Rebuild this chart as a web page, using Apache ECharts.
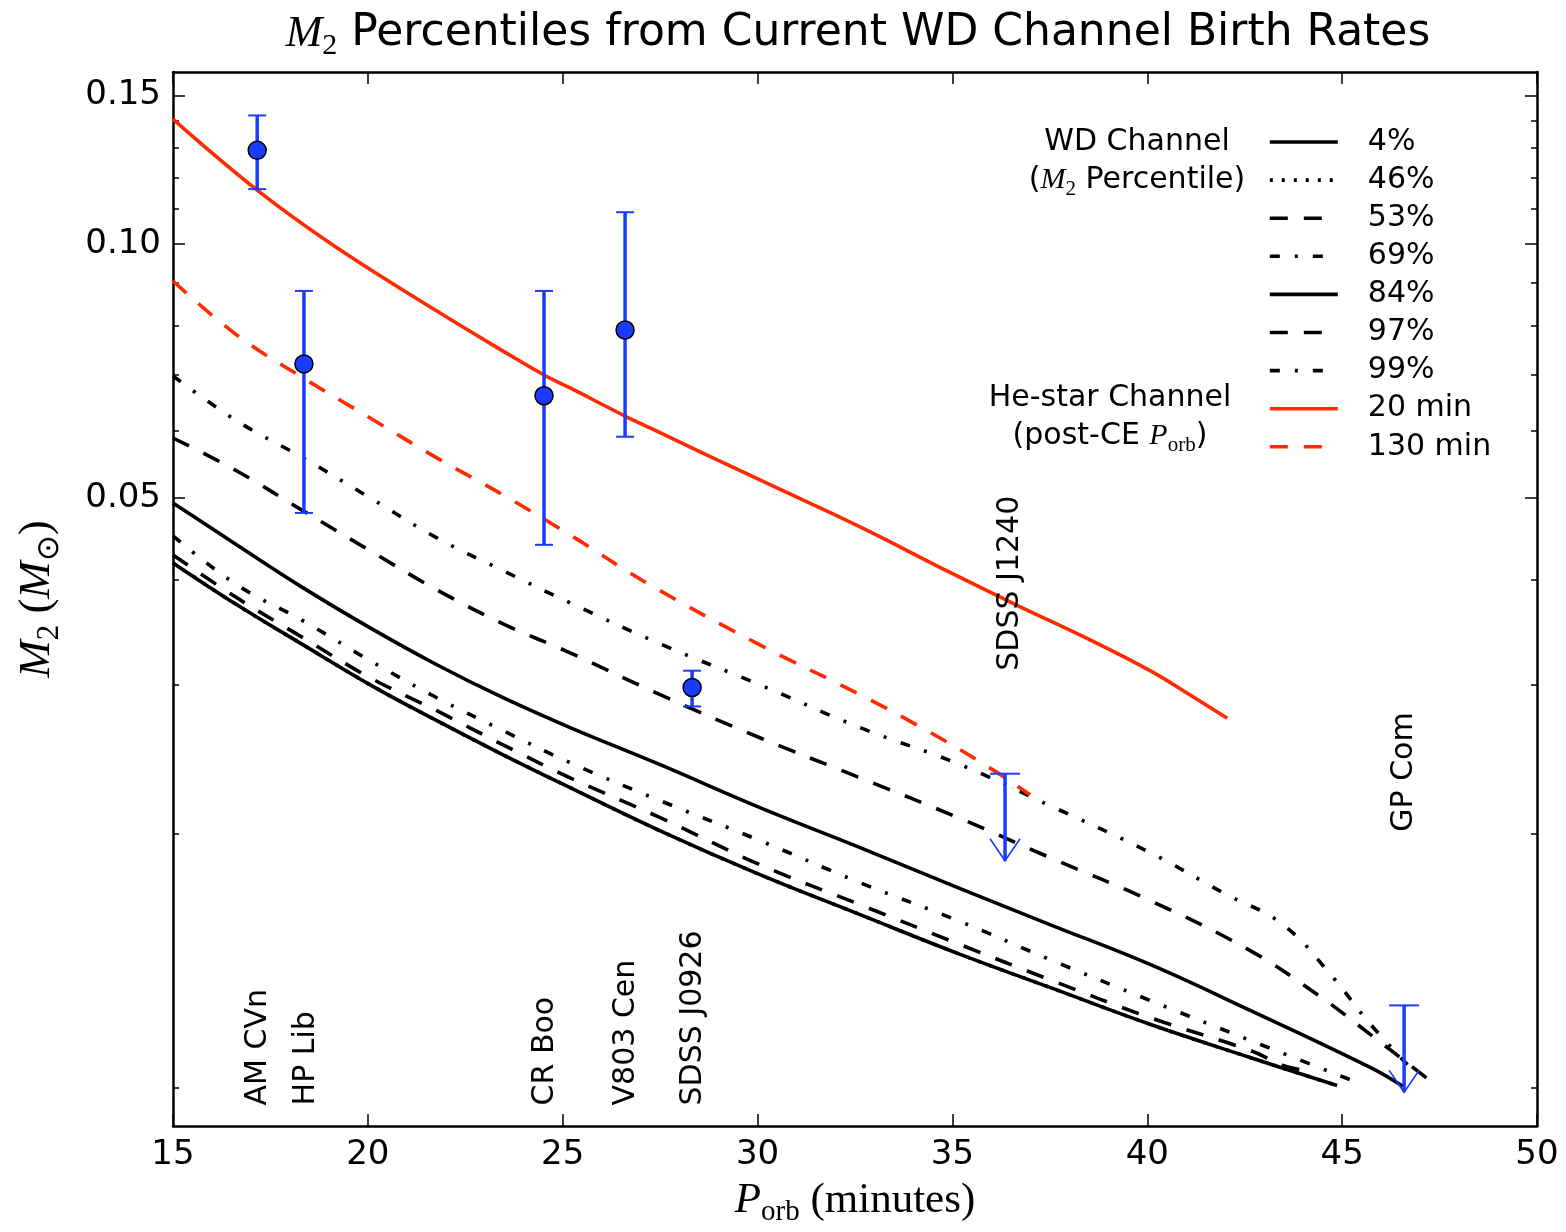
<!DOCTYPE html>
<html>
<head>
<meta charset="utf-8">
<script src="https://cdn.jsdelivr.net/npm/echarts@6/dist/echarts.min.js"></script>
<style>html,body{margin:0;padding:0;background:#fff}#chart{width:1566px;height:1232px}</style>
</head>
<body>
<div id="chart"></div>
<script>
// ---------------- data ----------------
const xCommon = [15.0, 16.64, 18.34, 20.06, 21.77, 23.47, 25.19, 27.50, 30.06, 32.63, 35.20, 37.50, 40.07, 42.64];

const p4X  = xCommon.concat([44.87]);
const p4Y  = [0.04188, 0.03735, 0.03348, 0.03002, 0.02722, 0.02480, 0.02267, 0.02015, 0.01788, 0.01603, 0.01438, 0.01314, 0.01188, 0.01085, 0.01005];

const p46X = xCommon.concat([44.87]);
const p46Y = [0.04188, 0.03735, 0.03348, 0.03002, 0.02722, 0.02480, 0.02267, 0.02015, 0.01788, 0.01603, 0.01438, 0.01314, 0.01188, 0.01085, 0.01005];

const p53X = xCommon.concat([43.48, 43.92]);
const p53Y = [0.04280, 0.03807, 0.03413, 0.03060, 0.02797, 0.02548, 0.02329, 0.02089, 0.01837, 0.01647, 0.01477, 0.01342, 0.01210, 0.01106, 0.01062, 0.01050];

const p69X = xCommon.concat([45.38]);
const p69Y = [0.04508, 0.03944, 0.03575, 0.03206, 0.02898, 0.02649, 0.02427, 0.02188, 0.01962, 0.01749, 0.01573, 0.01418, 0.01268, 0.01137, 0.01014];

const p84X = xCommon.concat([45.72, 46.56]);
const p84Y = [0.04933, 0.04398, 0.03912, 0.03507, 0.03171, 0.02898, 0.02671, 0.02414, 0.02147, 0.01925, 0.01721, 0.01560, 0.01399, 0.01234, 0.01056, 0.01003];

const p97X = xCommon.concat([44.36, 45.72, 47.44]);
const p97Y = [0.05890, 0.05383, 0.04827, 0.04328, 0.03891, 0.03546, 0.03276, 0.02922, 0.02598, 0.02329, 0.02084, 0.01873, 0.01666, 0.01453, 0.01289, 0.01156, 0.01003];

const p99X = [15.0, 16.64, 18.34, 20.06, 21.77, 23.47, 25.19, 27.50, 30.06, 32.63, 35.20, 37.50, 40.07, 41.94, 43.48, 44.77, 45.64, 46.79];
const p99Y = [0.06977, 0.06170, 0.05578, 0.05001, 0.04484, 0.04100, 0.03755, 0.03357, 0.03002, 0.02671, 0.02414, 0.02159, 0.01899, 0.01702, 0.01560, 0.01350, 0.01201, 0.01050];

const he20X = [15.0, 17.16, 19.11, 21.77, 23.47, 24.52, 25.19, 26.60, 27.24, 30.06, 32.63, 34.94, 36.66, 38.53, 40.07, 41.10, 42.05];
const he20Y = [0.14066, 0.11587, 0.0997, 0.08329, 0.07467, 0.06996, 0.06752, 0.06254, 0.06053, 0.05252, 0.04621, 0.0408, 0.0373, 0.03394, 0.0312, 0.0292, 0.0274];

const he130X = [15.0, 16.64, 18.34, 20.06, 21.77, 23.47, 25.19, 27.24, 30.06, 32.63, 34.35, 36.04, 36.99];
const he130Y = [0.09042, 0.07801, 0.06939, 0.06220, 0.05578, 0.05042, 0.04520, 0.03944, 0.03348, 0.02922, 0.02649, 0.02380, 0.02224];

// observed systems with error bars
const obsX    = [17.16, 18.36, 24.52, 26.60, 28.32];
const obsY    = [0.1292, 0.0721, 0.0661, 0.0791, 0.0298];
const obsLow  = [0.1162, 0.0480, 0.0440, 0.0591, 0.0283];
const obsHigh = [0.1421, 0.0880, 0.0880, 0.1091, 0.0312];

// upper limits (arrows)
const ulX   = [36.35, 46.59];
const ulTop = [0.02355, 0.01251];
const ulTip = [0.01857, 0.00987];

// object name labels
const labelNames = ['AM CVn', 'HP Lib', 'CR Boo', 'V803 Cen', 'SDSS J0926', 'SDSS J1240', 'GP Com'];
const labelX     = [17.18, 18.41, 24.55, 26.62, 28.34, 36.48, 46.60];
const labelY     = [0.00952, 0.00952, 0.00952, 0.00952, 0.00952, 0.0312, 0.0201];

// axis ticks
const xTicks = [15, 20, 25, 30, 35, 40, 45, 50];
const yTickLabels = [0.05, 0.10, 0.15];
const yMinorTicks = [0.01, 0.02, 0.03, 0.04, 0.06, 0.07, 0.08, 0.09, 0.11, 0.12, 0.13, 0.14];

const legendNames = ['4%', '46%', '53%', '69%', '84%', '97%', '99%', '20 min', '130 min'];

// ---------------- styles ----------------
const BLACK = '#000000';
const RED = '#ff2a00';
const BLUE = '#1a3cff';
const LW = 3.6;
const DASH = [18, 16];
const DASHDOT = [10, 15, 3, 15];
const DOT = [3, 9];
const SANS = 'DejaVu Sans';
const SERIF = 'Liberation Serif';

function pairs(xs, ys) { return xs.map((x, i) => [x, ys[i]]); }

function lineSeries(name, xs, ys, color, type, z) {
  return {
    name: name, type: 'line', data: pairs(xs, ys), symbol: 'none', smooth: 0.4,
    lineStyle: { color: color, width: LW, type: type, cap: 'butt' },
    itemStyle: { color: color }, z: z, silent: true
  };
}

const chart = echarts.init(document.getElementById('chart'), null, { renderer: 'canvas' });

const axisLineStyle = { color: BLACK, width: 2.5 };
const tickStyle = { color: BLACK, width: 1.5 };

const mathRich = function (size, subSize, color) {
  return {
    m: { fontFamily: SERIF, fontStyle: 'italic', fontWeight: 'normal', fontSize: size, lineHeight: size + 8, padding: [0, 0, 5, 0], verticalAlign: 'bottom', color: color },
    s: { fontFamily: SERIF, fontWeight: 'normal', fontSize: subSize, lineHeight: subSize + 4, verticalAlign: 'bottom', color: color },
    r: { fontFamily: SERIF, fontWeight: 'normal', fontSize: size, lineHeight: size + 8, padding: [0, 0, 5, 0], verticalAlign: 'bottom', color: color },
    t: { fontFamily: SANS, fontWeight: 'normal', fontSize: size, lineHeight: size + 8, padding: [0, 0, 5, 0], verticalAlign: 'bottom', color: color }
  };
};

function yAxisDef(position, values, length, showLine, showLabel, withName) {
  const ax = {
    type: 'log', logBase: 10, min: 0.009, max: 0.16, position: position,
    axisLine: { show: showLine, lineStyle: axisLineStyle },
    axisTick: { show: true, inside: true, length: length, customValues: values, lineStyle: tickStyle },
    axisLabel: {
      show: showLabel, customValues: values, fontFamily: SANS, fontSize: 34, color: BLACK, margin: 12,
      formatter: function (v) { return Number(v).toFixed(2); }
    },
    splitLine: { show: false }, minorTick: { show: false }, minorSplitLine: { show: false }
  };
  if (withName) {
    ax.name = '{m|M}{s|2}{r| (}{m|M}{s|⊙}{r|)}';
    ax.nameLocation = 'middle';
    ax.nameRotate = 90;
    ax.nameGap = 108;
    ax.nameTextStyle = { rich: mathRich(45, 31, BLACK) };
  }
  return ax;
}

const series = [
  lineSeries('46%', p46X, p46Y, BLACK, DOT, 2),
  lineSeries('4%', p4X, p4Y, BLACK, 'solid', 3),
  lineSeries('53%', p53X, p53Y, BLACK, DASH, 3),
  lineSeries('69%', p69X, p69Y, BLACK, DASHDOT, 3),
  lineSeries('84%', p84X, p84Y, BLACK, 'solid', 3),
  lineSeries('97%', p97X, p97Y, BLACK, DASH, 3),
  lineSeries('99%', p99X, p99Y, BLACK, DASHDOT, 3),
  lineSeries('20 min', he20X, he20Y, RED, 'solid', 3),
  lineSeries('130 min', he130X, he130Y, RED, DASH, 3),
  {
    name: 'errorbars', type: 'custom', z: 5, silent: true,
    data: obsX.map((x, i) => [x, obsLow[i], obsHigh[i]]),
    encode: { x: 0, y: [1, 2] },
    renderItem: function (params, api) {
      const lo = api.coord([api.value(0), api.value(1)]);
      const hi = api.coord([api.value(0), api.value(2)]);
      const cap = 9;
      return {
        type: 'group', children: [
          { type: 'line', shape: { x1: lo[0], y1: lo[1], x2: hi[0], y2: hi[1] }, style: { stroke: BLUE, lineWidth: 3.5 } },
          { type: 'line', shape: { x1: lo[0] - cap, y1: lo[1], x2: lo[0] + cap, y2: lo[1] }, style: { stroke: BLUE, lineWidth: 2 } },
          { type: 'line', shape: { x1: hi[0] - cap, y1: hi[1], x2: hi[0] + cap, y2: hi[1] }, style: { stroke: BLUE, lineWidth: 2 } }
        ]
      };
    }
  },
  {
    name: 'upperlimits', type: 'custom', z: 5, silent: true,
    data: ulX.map((x, i) => [x, ulTip[i], ulTop[i]]),
    encode: { x: 0, y: [1, 2] },
    renderItem: function (params, api) {
      const tip = api.coord([api.value(0), api.value(1)]);
      const top = api.coord([api.value(0), api.value(2)]);
      const cap = 15;
      return {
        type: 'group', children: [
          { type: 'line', shape: { x1: top[0], y1: top[1], x2: tip[0], y2: tip[1] }, style: { stroke: BLUE, lineWidth: 3.5 } },
          { type: 'line', shape: { x1: top[0] - cap, y1: top[1], x2: top[0] + cap, y2: top[1] }, style: { stroke: BLUE, lineWidth: 2 } },
          { type: 'polyline', shape: { points: [[tip[0] - 15, tip[1] - 22], [tip[0], tip[1]], [tip[0] + 15, tip[1] - 22]] }, style: { stroke: BLUE, lineWidth: 1.6, fill: null } }
        ]
      };
    }
  },
  {
    name: 'observed', type: 'scatter', z: 6, silent: true,
    data: pairs(obsX, obsY), symbol: 'circle', symbolSize: 18,
    itemStyle: { color: BLUE, borderColor: BLACK, borderWidth: 1.5, opacity: 1 }
  },
  {
    name: 'names', type: 'custom', z: 7, silent: true,
    data: pairs(labelX, labelY),
    encode: { x: 0, y: 1 },
    renderItem: function (params, api) {
      const p = api.coord([api.value(0), api.value(1)]);
      return {
        type: 'text', x: p[0], y: p[1], rotation: Math.PI / 2,
        style: { text: labelNames[params.dataIndex], fontFamily: SANS, fontSize: 30, fill: BLACK, align: 'left', verticalAlign: 'middle' }
      };
    }
  }
];

const option = {
  animation: false,
  backgroundColor: '#ffffff',
  title: {
    text: '{m|M}{s|2}{t| Percentiles from Current WD Channel Birth Rates}',
    left: 853, textAlign: 'center', top: 4,
    textStyle: { fontWeight: 'normal', rich: mathRich(44, 30, BLACK) }
  },
  grid: { left: 173, right: 29, top: 72, bottom: 104 },
  legend: {
    orient: 'vertical', left: 1263, top: 122,
    itemWidth: 68, itemHeight: 20, itemGap: 8.1,
    selectedMode: false,
    data: legendNames,
    itemStyle: { opacity: 0 },
    lineStyle: { width: 3.6 },
    textStyle: { fontFamily: SANS, fontSize: 30, color: BLACK, lineHeight: 30, padding: [0, 0, 0, 25] }
  },
  xAxis: [
    {
      type: 'value', min: 15, max: 50, interval: 5, position: 'bottom',
      axisLine: { show: true, lineStyle: axisLineStyle, onZero: false },
      axisTick: { show: true, inside: true, length: 12, lineStyle: tickStyle, customValues: xTicks },
      axisLabel: { show: true, customValues: xTicks, fontFamily: SANS, fontSize: 34, color: BLACK, margin: 12, showMinLabel: true, showMaxLabel: true },
      splitLine: { show: false },
      name: '{m|P}{s|orb}{r| (minutes)}', nameLocation: 'middle', nameGap: 50,
      nameTextStyle: { rich: mathRich(43, 29, BLACK) }
    },
    {
      type: 'value', min: 15, max: 50, interval: 5, position: 'top',
      axisLine: { show: true, lineStyle: axisLineStyle, onZero: false },
      axisTick: { show: true, inside: true, length: 12, lineStyle: tickStyle, customValues: xTicks },
      axisLabel: { show: false }, splitLine: { show: false }
    }
  ],
  yAxis: [
    yAxisDef('left', yTickLabels, 12, true, true, true),
    yAxisDef('left', yMinorTicks, 6, false, false, false),
    yAxisDef('right', yTickLabels, 12, true, false, false),
    yAxisDef('right', yMinorTicks, 6, false, false, false)
  ],
  graphic: [
    {
      type: 'text', x: 1137, y: 124, silent: true,
      style: {
        text: '{t|WD Channel}\n{t|(}{m|M}{s|2}{t| Percentile)}',
        align: 'center', verticalAlign: 'top',
        rich: mathRich(30, 21, BLACK)
      }
    },
    {
      type: 'text', x: 1110, y: 380, silent: true,
      style: {
        text: '{t|He-star Channel}\n{t|(post-CE }{m|P}{s|orb}{t|)}',
        align: 'center', verticalAlign: 'top',
        rich: mathRich(30, 21, RED)
      }
    }
  ],
  series: series
};

chart.setOption(option);
</script>
</body>
</html>
